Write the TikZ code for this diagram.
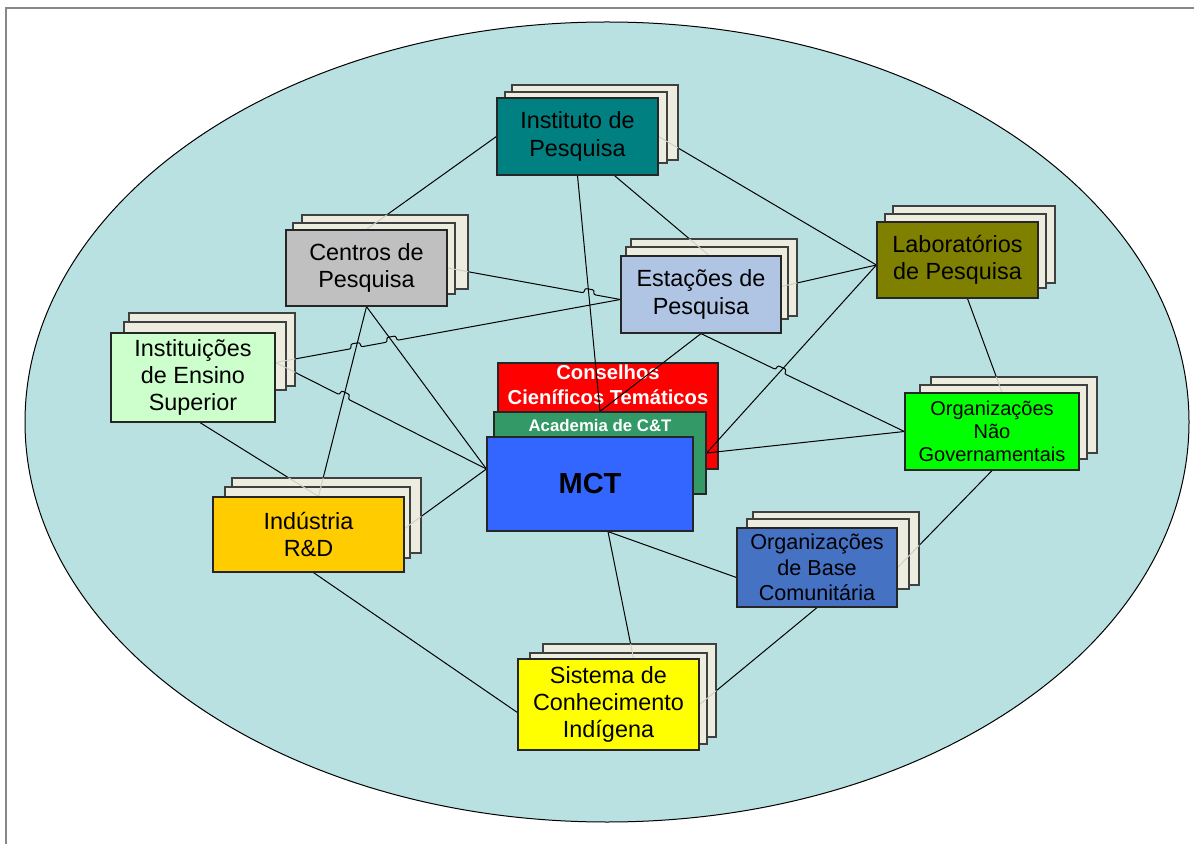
\documentclass[tikz,border=0pt]{standalone}
\usepackage{fontspec}
\setmainfont{Liberation Sans}
\usetikzlibrary{calc,intersections}
\definecolor{ellc}{RGB}{186,225,225}
\definecolor{backc}{RGB}{236,237,222}
\definecolor{tealc}{RGB}{0,128,128}
\definecolor{grayc}{RGB}{192,192,192}
\definecolor{estc}{RGB}{176,196,228}
\definecolor{olivec}{RGB}{128,128,0}
\definecolor{insc}{RGB}{204,255,204}
\definecolor{ongc}{RGB}{0,255,0}
\definecolor{obcc}{RGB}{70,114,196}
\definecolor{indc}{RGB}{255,204,0}
\definecolor{sisc}{RGB}{255,255,0}
\definecolor{consc}{RGB}{255,0,0}
\definecolor{acadc}{RGB}{51,153,102}
\definecolor{mctc}{RGB}{51,102,255}
\definecolor{framec}{RGB}{136,136,136}
\definecolor{lightc}{RGB}{205,208,200}
\pgfdeclarelayer{bg}
\pgfdeclarelayer{lines}
\pgfdeclarelayer{backs}
\pgfdeclarelayer{light}
\pgfsetlayers{bg,lines,backs,light,main}
\tikzset{
  front/.style={draw=black!85, line width=0.6pt, inner sep=0pt, align=center,
    font=\fontsize{11.7}{13.6}\selectfont, text=black},
  backbox/.style={draw=black!75, fill=backc, line width=0.6pt},
  conn/.style={draw=black, line width=0.5pt},
  hopline/.style={conn, rounded corners=1pt}
}
\newcommand\mkhop[3]{%
  \coordinate (#1a) at ($(#1)!2.4pt!(#2)$);
  \coordinate (#1b) at ($(#1)!2.4pt!(#3)$);
  \coordinate (#1c) at ($(#1a)!2.3pt!90:(#1)$);
  \coordinate (#1d) at ($(#1b)!2.3pt!-90:(#1)$);}
\newcommand\connpaths{%
  \draw[conn] (inst.south) -- (acad.north);
  \draw[conn] (cent.south) -- (indN);
  \draw[conn] (cent.south) -- (mctW);
  \draw[conn] (labW) -- (acad.east);
  \draw[hopline] (cent.east) -- (h1a) -- (h1c) -- (h1d) -- (h1b) -- (estW);
  \draw[hopline] (insE) -- (h2a) -- (h2c) -- (h2d) -- (h2b) -- (h3a) -- (h3c) -- (h3d) -- (h3b) -- (estW);
  \draw[hopline] (insE) -- (h4a) -- (h4c) -- (h4d) -- (h4b) -- (mctW);
  \draw[hopline] (est.south) -- (h5a) -- (h5c) -- (h5d) -- (h5b) -- (ong.west);
  \draw[conn] (inst.west) -- (cent.north);
  \draw[conn] (inst.east) -- (labW);
  \draw[conn] ($(inst.south)+(37,0)$) -- ($(est.north)+(8,0)$);
  \draw[conn] ($(est.east)+(0,-8)$) -- (labW);
  \draw[conn] (est.south) -- (acad.north);
  \draw[conn] (ong.west) -- (acad.east);
  \draw[conn] ($(lab.south)+(10,0)$) -- ($(ong.north)+(10,0)$);
  \draw[conn] (ong.south) -- (obc.east);
  \draw[conn] (mctS) -- ($(obc.west)+(0,10)$);
  \draw[conn] (mctS) -- ($(sis.north)+(25,0)$);
  \draw[conn] (obc.south) -- (sis.east);
  \draw[conn] ($(ind.south)+(5,0)$) -- ($(sis.west)+(0,8)$);
  \draw[conn] ($(ind.east)+(0,-6)$) -- (mctW);
  \draw[conn] ($(ins.south)+(7,0)$) -- (indN);}
\newcommand\backrects{%
  (512,85) rectangle (678,160) (505,92) rectangle (667,163)
  (302,215) rectangle (468,289) (293,223) rectangle (455,294)
  (631,239) rectangle (797,316) (626,247) rectangle (788,319)
  (893,206) rectangle (1055,283) (885,214) rectangle (1046,288)
  (129,313) rectangle (295,386) (124,322) rectangle (286,390)
  (931,377) rectangle (1097,453) (920,385) rectangle (1087,459)
  (753,512) rectangle (919,585) (747,519) rectangle (909,589)
  (543,644) rectangle (716,737) (530,653) rectangle (707,744)
  (232,478) rectangle (421,553) (225,487) rectangle (410,558)}
\begin{document}
\begin{tikzpicture}[x=0.5pt,y=-0.5pt]
\useasboundingbox (0,0) rectangle (1194,844);
\begin{pgfonlayer}{bg}
\fill[white] (0,0) rectangle (1194,844);
\draw[framec, line width=1pt] (6,844) -- (6,8) -- (1194,8);
\draw[fill=ellc, line width=0.5pt] (607,422) ellipse [x radius=291pt, y radius=200pt];
\node[draw=black!85, line width=0.6pt, fill=consc, minimum width=110pt, minimum height=53pt, inner sep=0pt] (cons) at (608,416) {};
\node[anchor=north, inner sep=0pt, align=center, text=white,
  font=\fontsize{10.1}{12.5}\selectfont\bfseries] (constext) at (608,364) {Conselhos\\Cieníficos Temáticos};
\end{pgfonlayer}

% back boxes (stacked pages)
\begin{pgfonlayer}{backs}
\draw[backbox] (512,85) rectangle (678,160);
\draw[backbox] (505,92) rectangle (667,163);
\draw[backbox] (302,215) rectangle (468,289);
\draw[backbox] (293,223) rectangle (455,294);
\draw[backbox] (631,239) rectangle (797,316);
\draw[backbox] (626,247) rectangle (788,319);
\draw[backbox] (893,206) rectangle (1055,283);
\draw[backbox] (885,214) rectangle (1046,288);
\draw[backbox] (129,313) rectangle (295,386);
\draw[backbox] (124,322) rectangle (286,390);
\draw[backbox] (931,377) rectangle (1097,453);
\draw[backbox] (920,385) rectangle (1087,459);
\draw[backbox] (753,512) rectangle (919,585);
\draw[backbox] (747,519) rectangle (909,589);
\draw[backbox] (543,644) rectangle (716,737);
\draw[backbox] (530,653) rectangle (707,744);
\draw[backbox] (232,478) rectangle (421,553);
\draw[backbox] (225,487) rectangle (410,558);
\end{pgfonlayer}

% front boxes
\node[front, fill=tealc, minimum width=80.5pt, minimum height=38.5pt] (inst) at (577.5,136.5) {Instituto de\\Pesquisa};
\node[front, fill=grayc, minimum width=80.5pt, minimum height=38pt] (cent) at (366.5,268) {Centros de\\Pesquisa};
\node[front, fill=estc, minimum width=80pt, minimum height=38.5pt] (est) at (701,294.5) {Estações de\\Pesquisa};
\node[front, fill=olivec, minimum width=80.5pt, minimum height=38pt] (lab) at (957.5,260) {Laboratórios\\de Pesquisa};
\node[front, fill=insc, minimum width=82pt, minimum height=44.5pt] (ins) at (193,377.5) {Instituições\\de Ensino\\Superior};
\node[front, fill=ongc, minimum width=87pt, minimum height=38.5pt, font=\fontsize{10}{11.5}\selectfont] (ong) at (992,431.5) {Organizações\\Não\\Governamentais};
\node[front, fill=obcc, minimum width=80pt, minimum height=39.5pt, font=\fontsize{10.8}{12.8}\selectfont] (obc) at (817,567.5) {Organizações\\de Base\\Comunitária};
\node[front, fill=indc, minimum width=95.5pt, minimum height=37.5pt] (ind) at (308.5,534.5) {Indústria\\R\&D};
\node[front, fill=sisc, minimum width=90.5pt, minimum height=45.5pt] (sis) at (608.5,704.5) {Sistema de\\Conhecimento\\Indígena};
\node[front, fill=acadc, minimum width=106pt, minimum height=41pt] (acad) at (600,453) {};
\node[anchor=base, inner sep=0pt, text=white, font=\fontsize{8.4}{10}\selectfont\bfseries] (acadtext) at (600,432) {Academia de C\&T};
\node[front, fill=mctc, minimum width=103pt, minimum height=47pt, font=\fontsize{14.5}{17}\selectfont\bfseries] (mct) at (590,484) {MCT};

% connectors
\begin{pgfonlayer}{lines}
\coordinate (estW) at ($(est.west)+(0,5)$);
\coordinate (labW) at ($(lab.west)+(0,5)$);
\coordinate (insE) at ($(ins.east)+(0,-15)$);
\coordinate (mctW) at ($(mct.west)+(0,-15)$);
\coordinate (mctS) at ($(mct.south)+(18,0)$);
\coordinate (indN) at ($(ind.north)+(10,0)$);
\path[name path global=p2] (inst.south) -- (acad.north);
\path[name path global=p21] (cent.south) -- (indN);
\path[name path global=p20] (cent.south) -- (mctW);
\path[name path global=p8] (labW) -- (acad.east);
\path[name path global=p5] (cent.east) -- (estW);
\path[name path global=p6] (insE) -- (estW);
\path[name path global=p19] (insE) -- (mctW);
\path[name path global=p9] (est.south) -- (ong.west);
\path[name intersections={of=p2 and p5, by=h1}];
\path[name intersections={of=p21 and p6, by=h2}];
\path[name intersections={of=p20 and p6, by=h3}];
\path[name intersections={of=p21 and p19, by=h4}];
\path[name intersections={of=p8 and p9, by=h5}];
\mkhop{h1}{cent.east}{estW}
\mkhop{h2}{insE}{estW}
\mkhop{h3}{insE}{estW}
\mkhop{h4}{insE}{mctW}
\mkhop{h5}{est.south}{ong.west}
\connpaths
\end{pgfonlayer}

% faint continuation of connectors over the stacked pages
\begin{pgfonlayer}{light}
\begin{scope}[conn/.style={draw=lightc, line width=0.5pt}]
\clip \backrects;
\connpaths
\end{scope}
\end{pgfonlayer}
\end{tikzpicture}
\end{document}
